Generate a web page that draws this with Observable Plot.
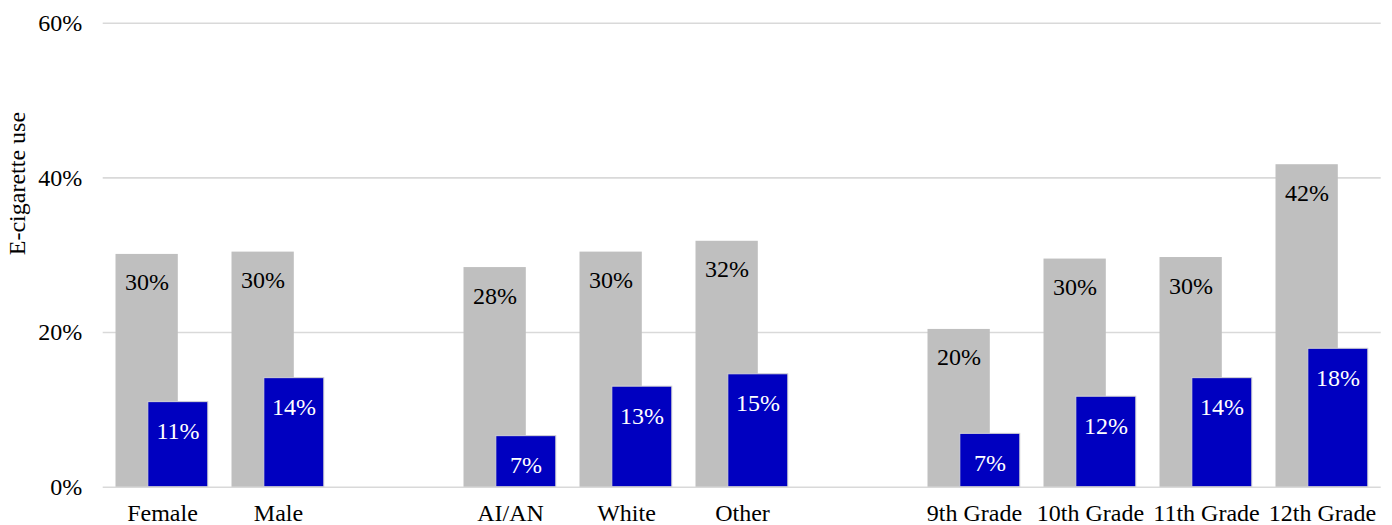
<!DOCTYPE html>
<html>
<head>
<meta charset="utf-8">
<script src="https://cdn.jsdelivr.net/npm/d3@7"></script>
<script src="https://cdn.jsdelivr.net/npm/@observablehq/plot@0.6"></script>
<style>
  html, body { margin: 0; padding: 0; background: #fff; }
  #chart svg { display: block; }
  #chart svg text { font-family: "Liberation Serif", "Times New Roman", serif; font-variant-numeric: normal; }
</style>
</head>
<body>
<div id="chart"></div>
<script>
// Category groups (a blank slot separates each group on the x axis)
const sexes = ["Female", "Male"];
const races = ["AI/AN", "White", "Other"];
const grades = ["9th Grade", "10th Grade", "11th Grade", "12th Grade"];
const categories = [...sexes, ...races, ...grades];

// E-cigarette use (%) per category
const greyValues = [30.1, 30.4, 28.4, 30.4, 31.8, 20.4, 29.5, 29.7, 41.7];
const blueValues = [11.0, 14.1, 6.6, 13.0, 14.6, 6.9, 11.7, 14.1, 17.9];

// Y axis ticks
const yTicks = [0, 20, 40, 60];
const yTitle = "E-cigarette use";

const serif = "'Liberation Serif', 'Times New Roman', serif";
const xDomain = [...sexes, "gap-1", ...races, "gap-2", ...grades];
const greyRows = categories.map((c, i) => ({cat: c, v: greyValues[i]}));
const blueRows = categories.map((c, i) => ({cat: c, v: blueValues[i]}));
const pct = d => `${Math.round(d.v)}%`;

const chart = Plot.plot({
  width: 1392,
  height: 525,
  marginLeft: 102.7,
  marginRight: 11.3,
  marginTop: 22.7,
  marginBottom: 38.3,
  style: {fontFamily: serif, fontSize: "24px", color: "#000", background: "#fff"},
  x: {type: "band", domain: xDomain, paddingInner: 0, paddingOuter: 0},
  y: {domain: [0, 60]},
  marks: [
    Plot.gridY(yTicks, {stroke: "#d9d9d9", strokeOpacity: 1, strokeWidth: 1.6}),
    Plot.barY(greyRows, {x: "cat", y: "v", fill: "#bfbfbf", insetLeft: 11.5, insetRight: 42.2}),
    Plot.barY(blueRows, {x: "cat", y: "v", fill: "#0000c0", stroke: "#d4d4d4", strokeWidth: 1, insetLeft: 43.8, insetRight: 12.2}),
    Plot.text(greyRows, {x: "cat", y: "v", text: pct, dx: -15.5, dy: 19, lineAnchor: "top", fill: "#000", fontFamily: serif, fontSize: 24, fontVariant: "normal"}),
    Plot.text(blueRows, {x: "cat", y: "v", text: pct, dx: 15.5, dy: 20, lineAnchor: "top", fill: "#fff", fontFamily: serif, fontSize: 24, fontVariant: "normal"}),
    Plot.axisX({ticks: categories, tickSize: 0, tickPadding: 17, label: null, fontFamily: serif, fontSize: 24}),
    Plot.axisY({ticks: yTicks, tickSize: 0, tickPadding: 21, tickFormat: d => `${d}%`, label: null, fontFamily: serif, fontSize: 24, fontVariant: "normal"}),
    Plot.text([yTitle], {text: d => d, frameAnchor: "left", rotate: -90, dx: -85.4, lineAnchor: "middle", fill: "#000", fontFamily: serif, fontSize: 24})
  ]
});

document.getElementById("chart").appendChild(chart);
</script>
</body>
</html>
